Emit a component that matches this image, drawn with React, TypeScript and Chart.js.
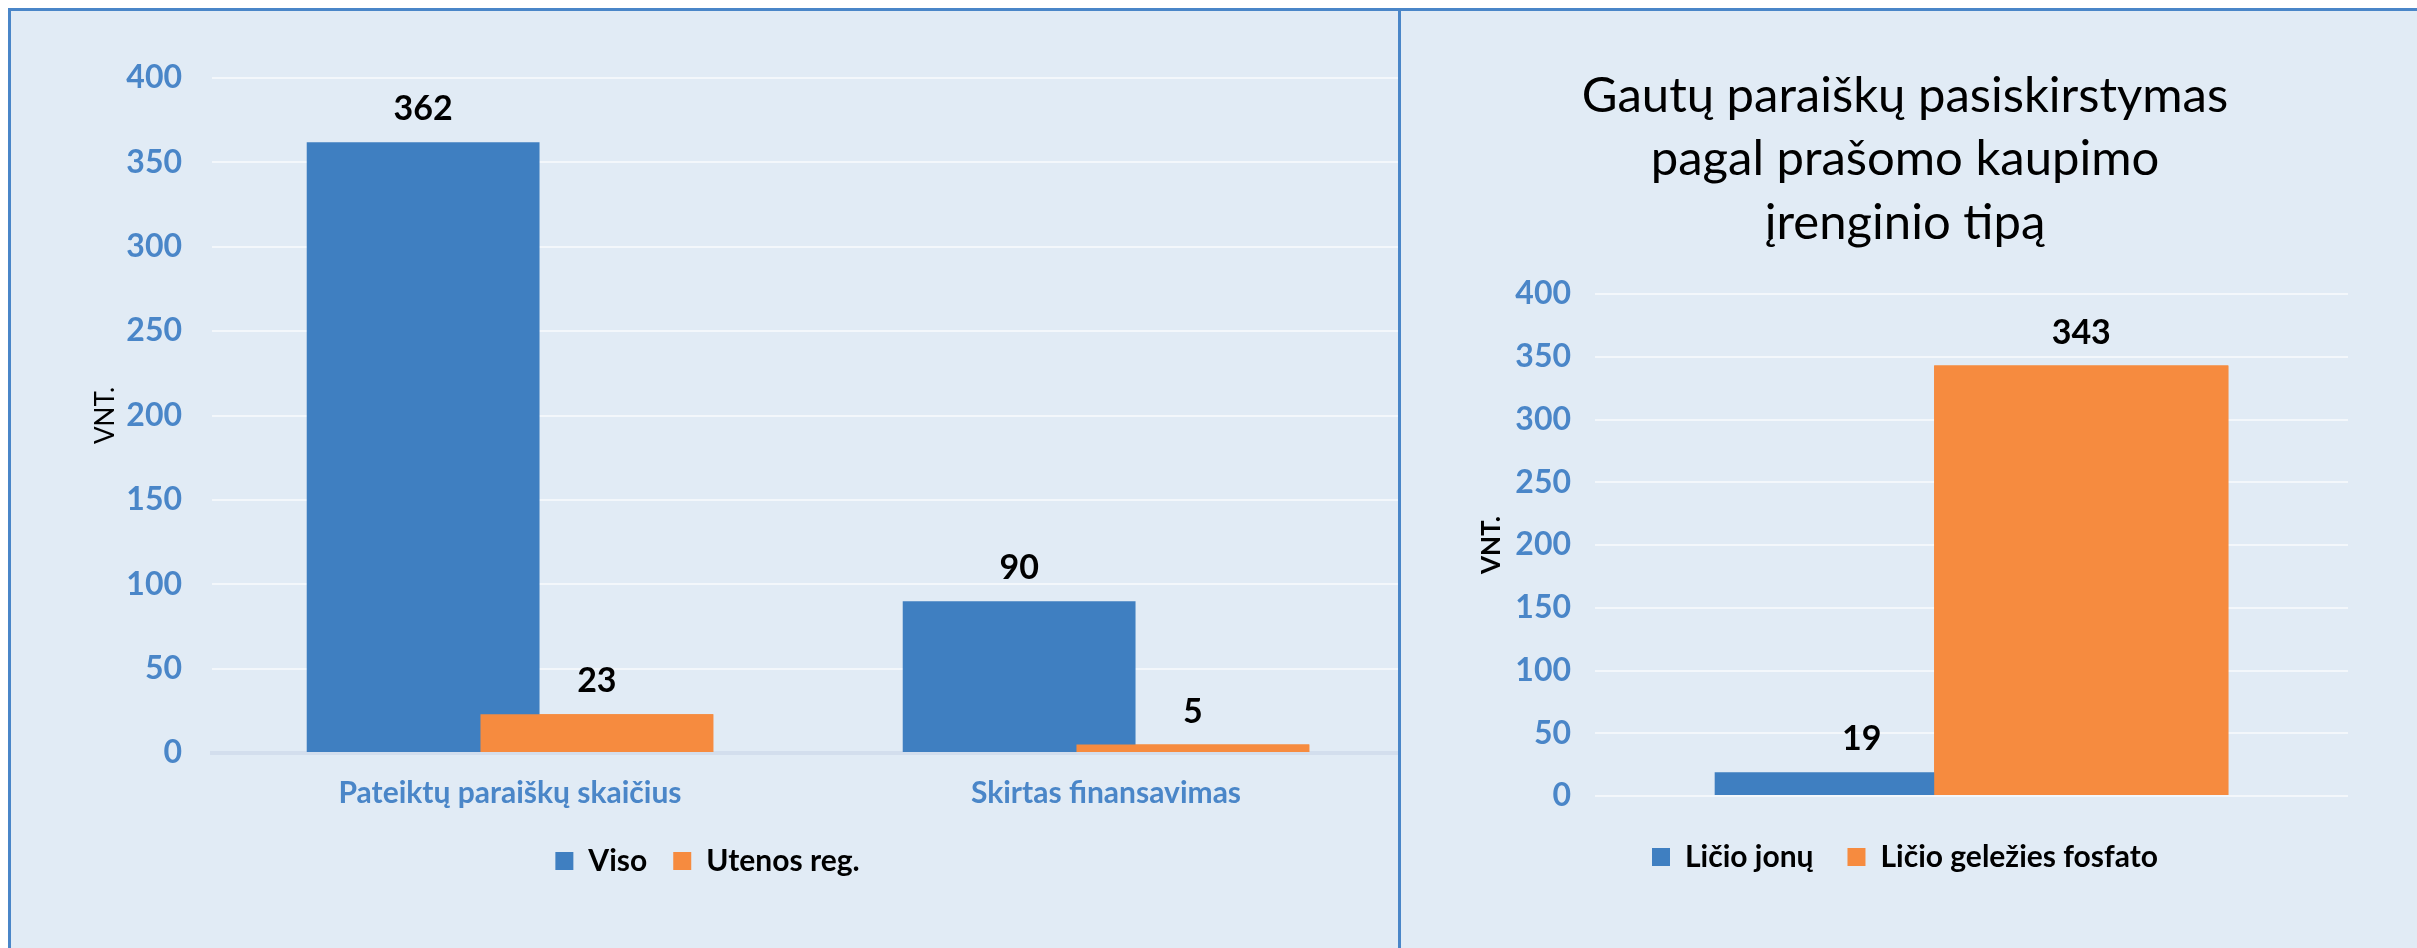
import React, { useEffect, useRef } from "react";
import { Chart, registerables } from "chart.js";

Chart.register(...registerables);

// ---- Data ----
const leftCategories = ["Pateiktų paraiškų skaičius", "Skirtas finansavimas"];
const leftSeriesNames = ["Viso", "Utenos reg."];
const visoValues = [362, 90];
const utenosValues = [23, 5];

const rightCategories = [""];
const rightSeriesNames = ["Ličio jonų", "Ličio geležies fosfato"];
const licioJonuValues = [19];
const licioFosfatoValues = [343];

const rightTitle = ["Gautų paraiškų pasiskirstymas", "pagal prašomo kaupimo", "įrenginio tipą"];
const axisTitle = "VNT.";
const yMin = 0;
const yMax = 400;
const yStep = 50;

// ---- Styles ----
const BLUE = "#3F7FC1";
const ORANGE = "#F68B3F";
const PANEL_BG = "#E1EBF5";
const BORDER = "#4A86C8";
const TICK_BLUE = "#4A86C8";
const GRID = "#F3F7FB";
const FONT = "Lato, 'Open Sans', sans-serif";

// Later series overlap earlier ones (as in the original), then value labels on top.
const overlapAndLabelsPlugin = {
  id: "overlapAndLabels",
  afterDatasetsDraw(chart: any) {
    const ctx = chart.ctx;
    ctx.save();
    for (let di = 1; di < chart.data.datasets.length; di++) {
      chart.getDatasetMeta(di).data.forEach((el: any) => el.draw(ctx));
    }
    ctx.font = `bold 34px ${FONT}`;
    ctx.fillStyle = "#000";
    ctx.textAlign = "center";
    ctx.textBaseline = "middle";
    chart.data.datasets.forEach((ds: any, di: number) => {
      const meta = chart.getDatasetMeta(di);
      meta.data.forEach((el: any, i: number) => {
        ctx.fillText(String(ds.data[i]), el.x, el.y - 33);
      });
    });
    ctx.restore();
  },
};

function useChart(ref: React.RefObject<HTMLCanvasElement>, makeConfig: () => any) {
  useEffect(() => {
    if (!ref.current) return;
    const chart = new Chart(ref.current, makeConfig());
    return () => chart.destroy();
  }, []);
}

const barCommon = {
  categoryPercentage: 0.583,
  barPercentage: 1.34,
  borderWidth: 0,
};

const legendLabels = (padding: number) => ({
  boxWidth: 18,
  boxHeight: 18,
  padding,
  color: "#000",
  font: { family: FONT, size: 30, weight: "bold" },
});

export default function App() {
  const leftRef = useRef<HTMLCanvasElement>(null);
  const rightRef = useRef<HTMLCanvasElement>(null);

  useEffect(() => {
    document.body.style.overflow = "hidden";
  }, []);

  useChart(leftRef, () => ({
    type: "bar",
    data: {
      labels: leftCategories,
      datasets: [
        { label: leftSeriesNames[0], data: visoValues, backgroundColor: BLUE, ...barCommon },
        { label: leftSeriesNames[1], data: utenosValues, backgroundColor: ORANGE, ...barCommon },
      ],
    },
    options: {
      responsive: false,
      animation: false,
      layout: { padding: { top: 67, left: 0, right: 0, bottom: 62 } },
      plugins: {
        tooltip: { enabled: false },
        title: { display: false },
        legend: { position: "bottom", labels: legendLabels(26) },
      },
      scales: {
        x: {
          grid: { display: false, drawTicks: false },
          border: { display: true, color: "#D3DEED", width: 4 },
          ticks: { color: TICK_BLUE, padding: 22, font: { family: FONT, size: 30, weight: "bold" } },
          afterFit: (s: any) => { s.height = 67; },
        },
        y: {
          min: yMin,
          max: yMax,
          grid: { color: GRID, lineWidth: 2, drawTicks: false },
          border: { display: false },
          ticks: { stepSize: yStep, color: TICK_BLUE, padding: 30, font: { family: FONT, size: 32, weight: "bold" } },
          title: {
            display: true,
            text: axisTitle,
            color: "#000",
            font: { family: FONT, size: 26, weight: "normal" },
            padding: { top: 79, bottom: 0 },
          },
          afterFit: (s: any) => { s.width = 201; },
        },
      },
    },
    plugins: [overlapAndLabelsPlugin],
  }));

  useChart(rightRef, () => ({
    type: "bar",
    data: {
      labels: rightCategories,
      datasets: [
        { label: rightSeriesNames[0], data: licioJonuValues, backgroundColor: BLUE, ...barCommon },
        { label: rightSeriesNames[1], data: licioFosfatoValues, backgroundColor: ORANGE, ...barCommon },
      ],
    },
    options: {
      responsive: false,
      animation: false,
      layout: { padding: { top: 0, left: 61, right: 69, bottom: 66 } },
      plugins: {
        tooltip: { enabled: false },
        title: {
          display: true,
          text: rightTitle,
          color: "#000",
          font: { family: FONT, size: 49, weight: "normal", lineHeight: 1.3 },
          padding: { top: 53, bottom: 39 },
        },
        legend: { position: "bottom", labels: legendLabels(34) },
      },
      scales: {
        x: {
          grid: { display: false, drawTicks: false },
          border: { display: false },
          ticks: { display: false },
          afterFit: (s: any) => { s.height = 12; },
        },
        y: {
          min: yMin,
          max: yMax,
          grid: { color: GRID, lineWidth: 2, drawTicks: false },
          border: { display: false },
          ticks: { stepSize: yStep, color: TICK_BLUE, padding: 24, font: { family: FONT, size: 32, weight: "bold" } },
          title: {
            display: true,
            text: axisTitle,
            color: "#000",
            font: { family: FONT, size: 26, weight: "bold" },
            padding: { top: 14, bottom: 0 },
          },
          afterFit: (s: any) => { s.width = 133; },
        },
      },
    },
    plugins: [overlapAndLabelsPlugin],
  }));

  return (
    <div
      style={{
        position: "fixed",
        left: 8,
        top: 8,
        width: 2409,
        height: 940,
        boxSizing: "border-box",
        background: PANEL_BG,
        borderTop: `3px solid ${BORDER}`,
        borderLeft: `3px solid ${BORDER}`,
        overflow: "hidden",
      }}
    >
      <canvas
        ref={leftRef}
        width={1393}
        height={937}
        style={{ position: "absolute", left: 0, top: 0, width: 1393, height: 937 }}
      />
      <canvas
        ref={rightRef}
        width={1016}
        height={937}
        style={{ position: "absolute", left: 1390, top: 0, width: 1016, height: 937, background: PANEL_BG }}
      />
      <div
        style={{ position: "absolute", left: 1387, top: 0, width: 3, height: 937, background: BORDER }}
      />
    </div>
  );
}
